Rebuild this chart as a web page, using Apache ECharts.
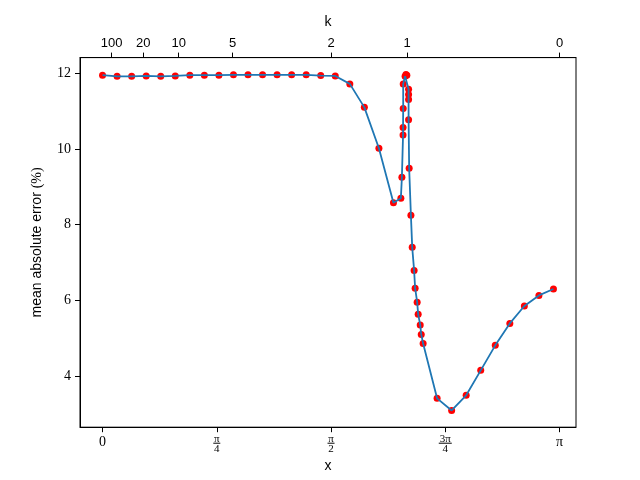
<!DOCTYPE html>
<html>
<head>
<meta charset="utf-8">
<script src="https://cdn.jsdelivr.net/npm/echarts@6/dist/echarts.min.js"></script>
<style>
  html, body { margin: 0; padding: 0; background: #fff; }
  #main { width: 640px; height: 480px; }
</style>
</head>
<body>
<div id="main"></div>
<script>
// x positions of the samples (radians) and the error at each one
const xVals = [
  0, 0.1, 0.2, 0.3, 0.4, 0.5, 0.6, 0.7, 0.8, 0.9, 1.0, 1.1, 1.2, 1.3, 1.4, 1.5, 1.6, 1.7, 1.8, 1.9, 2.0,
  2.051, 2.058, 2.066, 2.066, 2.067, 2.067, 2.080, 2.086, 2.092,
  2.104, 2.104, 2.104, 2.104, 2.108, 2.120, 2.129, 2.142, 2.149, 2.163, 2.170, 2.184, 2.191, 2.204,
  2.3, 2.4, 2.5, 2.6, 2.7, 2.8, 2.9, 3.0, 3.1
]
const maeVals = [
  11.95, 11.92, 11.92, 11.93, 11.92, 11.93, 11.95, 11.95, 11.95, 11.96, 11.96, 11.96, 11.96, 11.96, 11.96, 11.94, 11.93, 11.72, 11.10, 10.02, 8.58,
  8.70, 9.25, 10.37, 10.57, 11.07, 11.72, 11.92, 11.97, 11.95,
  11.58, 11.44, 11.31, 10.77, 9.49, 8.25, 7.40, 6.79, 6.32, 5.95, 5.63, 5.35, 5.10, 4.86,
  3.41, 3.09, 3.49, 4.15, 4.81, 5.39, 5.85, 6.13, 6.30
]

// bottom axis ticks
const xTickValues = [0, Math.PI / 4, Math.PI / 2, 3 * Math.PI / 4, Math.PI]
const xTickLabels = ['0', 'π/4', 'π/2', '3π/4', 'π']

// top axis (k) ticks
const kTickPos = [0.062, 0.280, Math.PI / 6, 0.8935, Math.PI / 2, 2 * Math.PI / 3, Math.PI]
const kTickLabels = ['100', '20', '10', '5', '2', '1', '0']

const yTicks = [4, 6, 8, 10, 12]

const chart = echarts.init(document.getElementById('main'), null, { renderer: 'canvas' })

const sans = 'Liberation Sans'
const serif = 'Liberation Serif'

function nearest (arr, v) {
  let best = 0
  for (let i = 1; i < arr.length; i++) {
    if (Math.abs(arr[i] - v) < Math.abs(arr[best] - v)) best = i
  }
  return best
}

const points = xVals.map((x, i) => [x, maeVals[i]])

const option = {
  animation: false,
  backgroundColor: '#fff',
  grid: {
    left: 80,
    right: 64,
    top: 57.6,
    bottom: 52.8,
    show: true,
    borderColor: '#000',
    borderWidth: 1
  },
  xAxis: [
    {
      type: 'value',
      position: 'bottom',
      min: -0.155,
      max: 3.255,
      name: 'x',
      nameLocation: 'middle',
      nameGap: 30,
      nameTextStyle: { fontFamily: sans, fontSize: 14, color: '#000' },
      axisLine: { onZero: false, lineStyle: { color: '#000', width: 1 } },
      splitLine: { show: false },
      axisTick: { customValues: xTickValues, length: 5, lineStyle: { color: '#000' } },
      axisLabel: {
        customValues: xTickValues,
        margin: 8,
        color: '#000',
        formatter: v => {
          const lab = xTickLabels[nearest(xTickValues, v)]
          if (lab.indexOf('/') < 0) return '{s|' + lab + '}'
          const [num, den] = lab.split('/')
          return '{n|' + num + '}\n{' + (num.length > 1 ? 'bw' : 'b') + '|}\n{d|' + den + '}'
        },
        rich: {
          s: { fontFamily: serif, fontSize: 14, lineHeight: 15, color: '#000' },
          n: { fontFamily: serif, fontSize: 11, lineHeight: 7, color: '#000' },
          b: { width: 7, height: 1, lineHeight: 2, backgroundColor: '#000' },
          bw: { width: 13, height: 1, lineHeight: 2, backgroundColor: '#000' },
          d: { fontFamily: serif, fontSize: 11, lineHeight: 10, color: '#000' }
        }
      }
    },
    {
      type: 'value',
      position: 'top',
      min: -0.155,
      max: 3.255,
      name: 'k',
      nameLocation: 'middle',
      nameGap: 28,
      nameTextStyle: { fontFamily: sans, fontSize: 14, color: '#000' },
      axisLine: { onZero: false, lineStyle: { color: '#000', width: 1 } },
      splitLine: { show: false },
      axisTick: { customValues: kTickPos, length: 5, lineStyle: { color: '#000' } },
      axisLabel: {
        customValues: kTickPos,
        margin: 8,
        color: '#000',
        fontFamily: sans,
        fontSize: 13,
        formatter: v => kTickLabels[nearest(kTickPos, v)]
      }
    }
  ],
  yAxis: {
    type: 'value',
    min: 2.647,
    max: 12.415,
    name: '{s|mean absolute error }{m|(%)}',
    nameLocation: 'middle',
    nameRotate: 90,
    nameGap: 36,
    nameTextStyle: {
      rich: {
        s: { fontFamily: sans, fontSize: 14, color: '#000' },
        m: { fontFamily: serif, fontSize: 14, color: '#000' }
      }
    },
    axisLine: { show: true, onZero: false, lineStyle: { color: '#000', width: 1 } },
    splitLine: { show: false },
    axisTick: { customValues: yTicks, length: 5, lineStyle: { color: '#000' } },
    axisLabel: {
      customValues: yTicks,
      margin: 9,
      color: '#000',
      fontFamily: serif,
      fontSize: 14
    }
  },
  series: [
    {
      name: 'points',
      type: 'scatter',
      data: points,
      symbolSize: 7,
      itemStyle: { color: '#ff0000', opacity: 1 },
      z: 1
    },
    {
      name: 'curve',
      type: 'line',
      data: points,
      showSymbol: false,
      lineStyle: { color: '#1f77b4', width: 1.8 },
      z: 2
    }
  ]
}

chart.setOption(option)

window.addEventListener('resize', () => {
  chart.resize()
})
</script>
</body>
</html>
